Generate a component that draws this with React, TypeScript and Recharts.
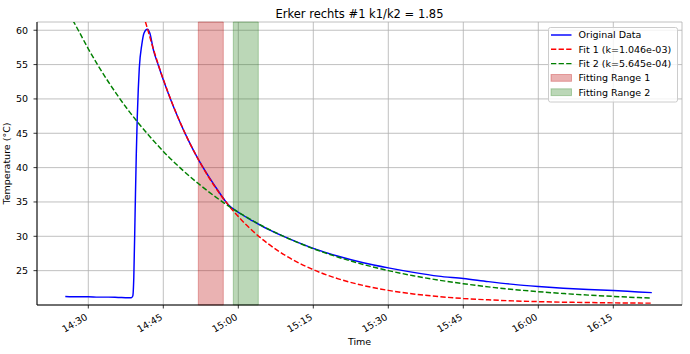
import React from 'react';
import { ComposedChart, Line, XAxis, YAxis, CartesianGrid, ReferenceArea } from 'recharts';

const W = 690;
const H = 354;
const FONT = '"DejaVu Sans", Verdana, sans-serif';

const TITLE = 'Erker rechts #1 k1/k2 = 1.85';
const X_LABEL = 'Time';
const Y_LABEL = 'Temperature (°C)';

// all times are minutes after 14:30
const BASE_MINUTES = 14 * 60 + 30;

const blueTimes = [-4.6, -2, 0, 2, 4, 6, 8, 8.6, 8.9, 9.1, 9.35, 9.6, 9.8, 10.0, 10.2, 10.7, 11.15, 11.8, 12.3, 13, 14, 16, 18, 20, 22, 24, 26, 28, 30, 33, 36, 40, 45, 50, 55, 60, 65, 70, 75, 80, 85, 90, 95, 100, 105, 110, 112.7];
const blueValues = [21.25, 21.2, 21.2, 21.15, 21.15, 21.1, 21.05, 21.05, 21.3, 24, 33, 42, 47.5, 51.5, 54.5, 57.9, 59.6, 60.15, 59.6, 57.2, 54.9, 50.8, 47.2, 44.0, 41.2, 38.8, 36.6, 34.6, 33.5, 32.2, 31.0, 29.7, 28.25, 27.1, 26.15, 25.4, 24.75, 24.2, 23.85, 23.4, 23.0, 22.7, 22.45, 22.25, 22.1, 21.9, 21.8];

const fit1Times = [11, 12, 13, 14, 16, 18, 20, 22, 24, 26, 28, 30, 33, 36, 40, 45, 50, 55, 60, 65, 70, 75, 80, 85, 90, 95, 100, 105, 110, 112.7];
const fit1Values = [62.3, 59.8, 57.3, 55.0, 50.85, 47.2, 44.0, 41.2, 38.7, 36.5, 34.57, 32.87, 30.7, 28.89, 26.96, 25.14, 23.81, 22.84, 22.13, 21.61, 21.23, 20.95, 20.75, 20.6, 20.49, 20.41, 20.36, 20.31, 20.28, 20.27];

const fit2Times = [-4.6, -2, 0, 2, 4, 6, 8, 10, 13, 16, 19, 22, 25, 28, 31, 35, 40, 45, 50, 55, 60, 65, 70, 75, 80, 85, 90, 95, 100, 105, 110, 112.7];
const fit2Values = [63.4, 60.0, 57.3, 54.8, 52.5, 50.35, 48.35, 46.5, 43.95, 41.62, 39.55, 37.68, 35.98, 34.44, 33.07, 31.43, 29.68, 28.2, 26.96, 25.9, 25.01, 24.26, 23.63, 23.1, 22.64, 22.26, 21.94, 21.67, 21.44, 21.25, 21.08, 21.01];

const fitRange1 = [22, 27];
const fitRange2 = [29, 34];

const xTicks = [0, 15, 30, 45, 60, 75, 90, 105];
const yTicks = [25, 30, 35, 40, 45, 50, 55, 60];
const xDomain = [-10.26, 118.74];
const yDomain = [20, 61.2];

const COLORS = {
  blue: '#0000ff',
  red: '#ff0000',
  green: '#008000',
  span1: '#b80000',
  span2: '#1f7a10',
};

const legendItems = [
  { label: 'Original Data', kind: 'line', color: COLORS.blue },
  { label: 'Fit 1 (k=1.046e-03)', kind: 'dash', color: COLORS.red },
  { label: 'Fit 2 (k=5.645e-04)', kind: 'dash', color: COLORS.green },
  { label: 'Fitting Range 1', kind: 'patch', color: COLORS.span1 },
  { label: 'Fitting Range 2', kind: 'patch', color: COLORS.span2 },
];

const toRows = (ts: number[], vs: number[]) => ts.map((t, i) => ({ t, v: vs[i] }));
const blueData = toRows(blueTimes, blueValues);
const fit1Data = toRows(fit1Times, fit1Values);
const fit2Data = toRows(fit2Times, fit2Values);

const fmtTime = (t: number) => {
  const m = Math.round(BASE_MINUTES + t);
  const h = Math.floor(m / 60);
  const mm = m - h * 60;
  return `${h}:${String(mm).padStart(2, '0')}`;
};

const FS = 9.5;
const DASH = '5.3 2.3';

const XTick = (props: any) => {
  const { x, y, payload } = props;
  const ty = y + 8;
  return (
    <text
      x={x}
      y={ty}
      transform={`rotate(-30 ${x} ${ty})`}
      textAnchor="end"
      fontSize={FS}
      fontFamily={FONT}
      fill="#000"
    >
      {fmtTime(payload.value)}
    </text>
  );
};

const MARGIN = { top: 22, right: 8, bottom: 0, left: 0 };
const Y_AXIS_W = 37;
const X_AXIS_H = 49;

const Legend = () => {
  const lx = 548;
  const ly = 27;
  const rowH = 14.3;
  return (
    <g>
      <rect x={lx + 0.5} y={ly + 0.5} width={129} height={74.5} rx={2} ry={2} fill="#fff" fillOpacity={0.8} stroke="#cccccc" strokeWidth={1} />
      {legendItems.map((it, i) => {
        const cy = ly + 8 + i * rowH;
        const hx0 = lx + 3;
        const hx1 = lx + 23.5;
        let handle;
        if (it.kind === 'patch') {
          handle = (
            <rect x={hx0} y={cy - 3.4} width={hx1 - hx0} height={6.8} fill={it.color} fillOpacity={0.3} stroke={it.color} strokeOpacity={0.3} strokeWidth={1} />
          );
        } else {
          handle = (
            <line x1={hx0} y1={cy} x2={hx1} y2={cy} stroke={it.color} strokeWidth={1.45} strokeDasharray={it.kind === 'dash' ? DASH : undefined} />
          );
        }
        return (
          <g key={it.label}>
            {handle}
            <text x={lx + 30.5} y={cy + 3.4} fontSize={FS} fontFamily={FONT} fill="#000">
              {it.label}
            </text>
          </g>
        );
      })}
    </g>
  );
};

export default function App() {
  return (
    <div style={{ position: 'absolute', left: 0, top: 0, width: W, height: H, background: '#fff' }}>
      <ComposedChart width={W} height={H} margin={MARGIN}>
        <CartesianGrid stroke="#b0b0b0" strokeWidth={0.8} />
        <XAxis
          dataKey="t"
          type="number"
          domain={xDomain}
          ticks={xTicks}
          allowDataOverflow
          height={X_AXIS_H}
          tick={<XTick />}
          tickSize={3.5}
          tickMargin={2.5}
          tickLine={{ stroke: '#000', strokeWidth: 0.8 }}
          axisLine={{ stroke: '#000', strokeWidth: 1 }}
          interval={0}
        />
        <XAxis
          xAxisId="top"
          orientation="top"
          type="number"
          domain={xDomain}
          allowDataOverflow
          height={0}
          tick={false}
          tickLine={false}
          axisLine={{ stroke: '#000', strokeWidth: 1 }}
        />
        <YAxis
          type="number"
          domain={yDomain}
          ticks={yTicks}
          allowDataOverflow
          width={Y_AXIS_W}
          tick={{ fontSize: FS, fill: '#000', fontFamily: FONT }}
          tickSize={3.5}
          tickMargin={5.5}
          tickLine={{ stroke: '#000', strokeWidth: 0.8 }}
          axisLine={{ stroke: '#000', strokeWidth: 1 }}
          interval={0}
        />
        <YAxis
          yAxisId="right"
          orientation="right"
          type="number"
          domain={yDomain}
          allowDataOverflow
          width={0}
          tick={false}
          tickLine={false}
          axisLine={{ stroke: '#000', strokeWidth: 1 }}
        />
        <ReferenceArea
          x1={fitRange1[0]}
          x2={fitRange1[1]}
          fill={COLORS.span1}
          fillOpacity={0.3}
          stroke={COLORS.span1}
          strokeOpacity={0.3}
          strokeWidth={1}
        />
        <ReferenceArea
          x1={fitRange2[0]}
          x2={fitRange2[1]}
          fill={COLORS.span2}
          fillOpacity={0.3}
          stroke={COLORS.span2}
          strokeOpacity={0.3}
          strokeWidth={1}
        />
        <Line data={blueData} dataKey="v" type="monotone" stroke={COLORS.blue} strokeWidth={1.45} dot={false} isAnimationActive={false} />
        <Line data={fit1Data} dataKey="v" type="monotone" stroke={COLORS.red} strokeWidth={1.45} strokeDasharray={DASH} dot={false} isAnimationActive={false} />
        <Line data={fit2Data} dataKey="v" type="monotone" stroke={COLORS.green} strokeWidth={1.45} strokeDasharray={DASH} dot={false} isAnimationActive={false} />
      </ComposedChart>
      <svg width={W} height={H} style={{ position: 'absolute', left: 0, top: 0, pointerEvents: 'none' }}>
        <text x={359.5} y={17.5} textAnchor="middle" fontSize={11.5} fontFamily={FONT} fill="#000">
          {TITLE}
        </text>
        <text x={359.5} y={345} textAnchor="middle" fontSize={FS} fontFamily={FONT} fill="#000">
          {X_LABEL}
        </text>
        <text x={9.5} y={163.5} transform="rotate(-90 9.5 163.5)" textAnchor="middle" fontSize={FS} fontFamily={FONT} fill="#000">
          {Y_LABEL}
        </text>
        <Legend />
      </svg>
    </div>
  );
}
